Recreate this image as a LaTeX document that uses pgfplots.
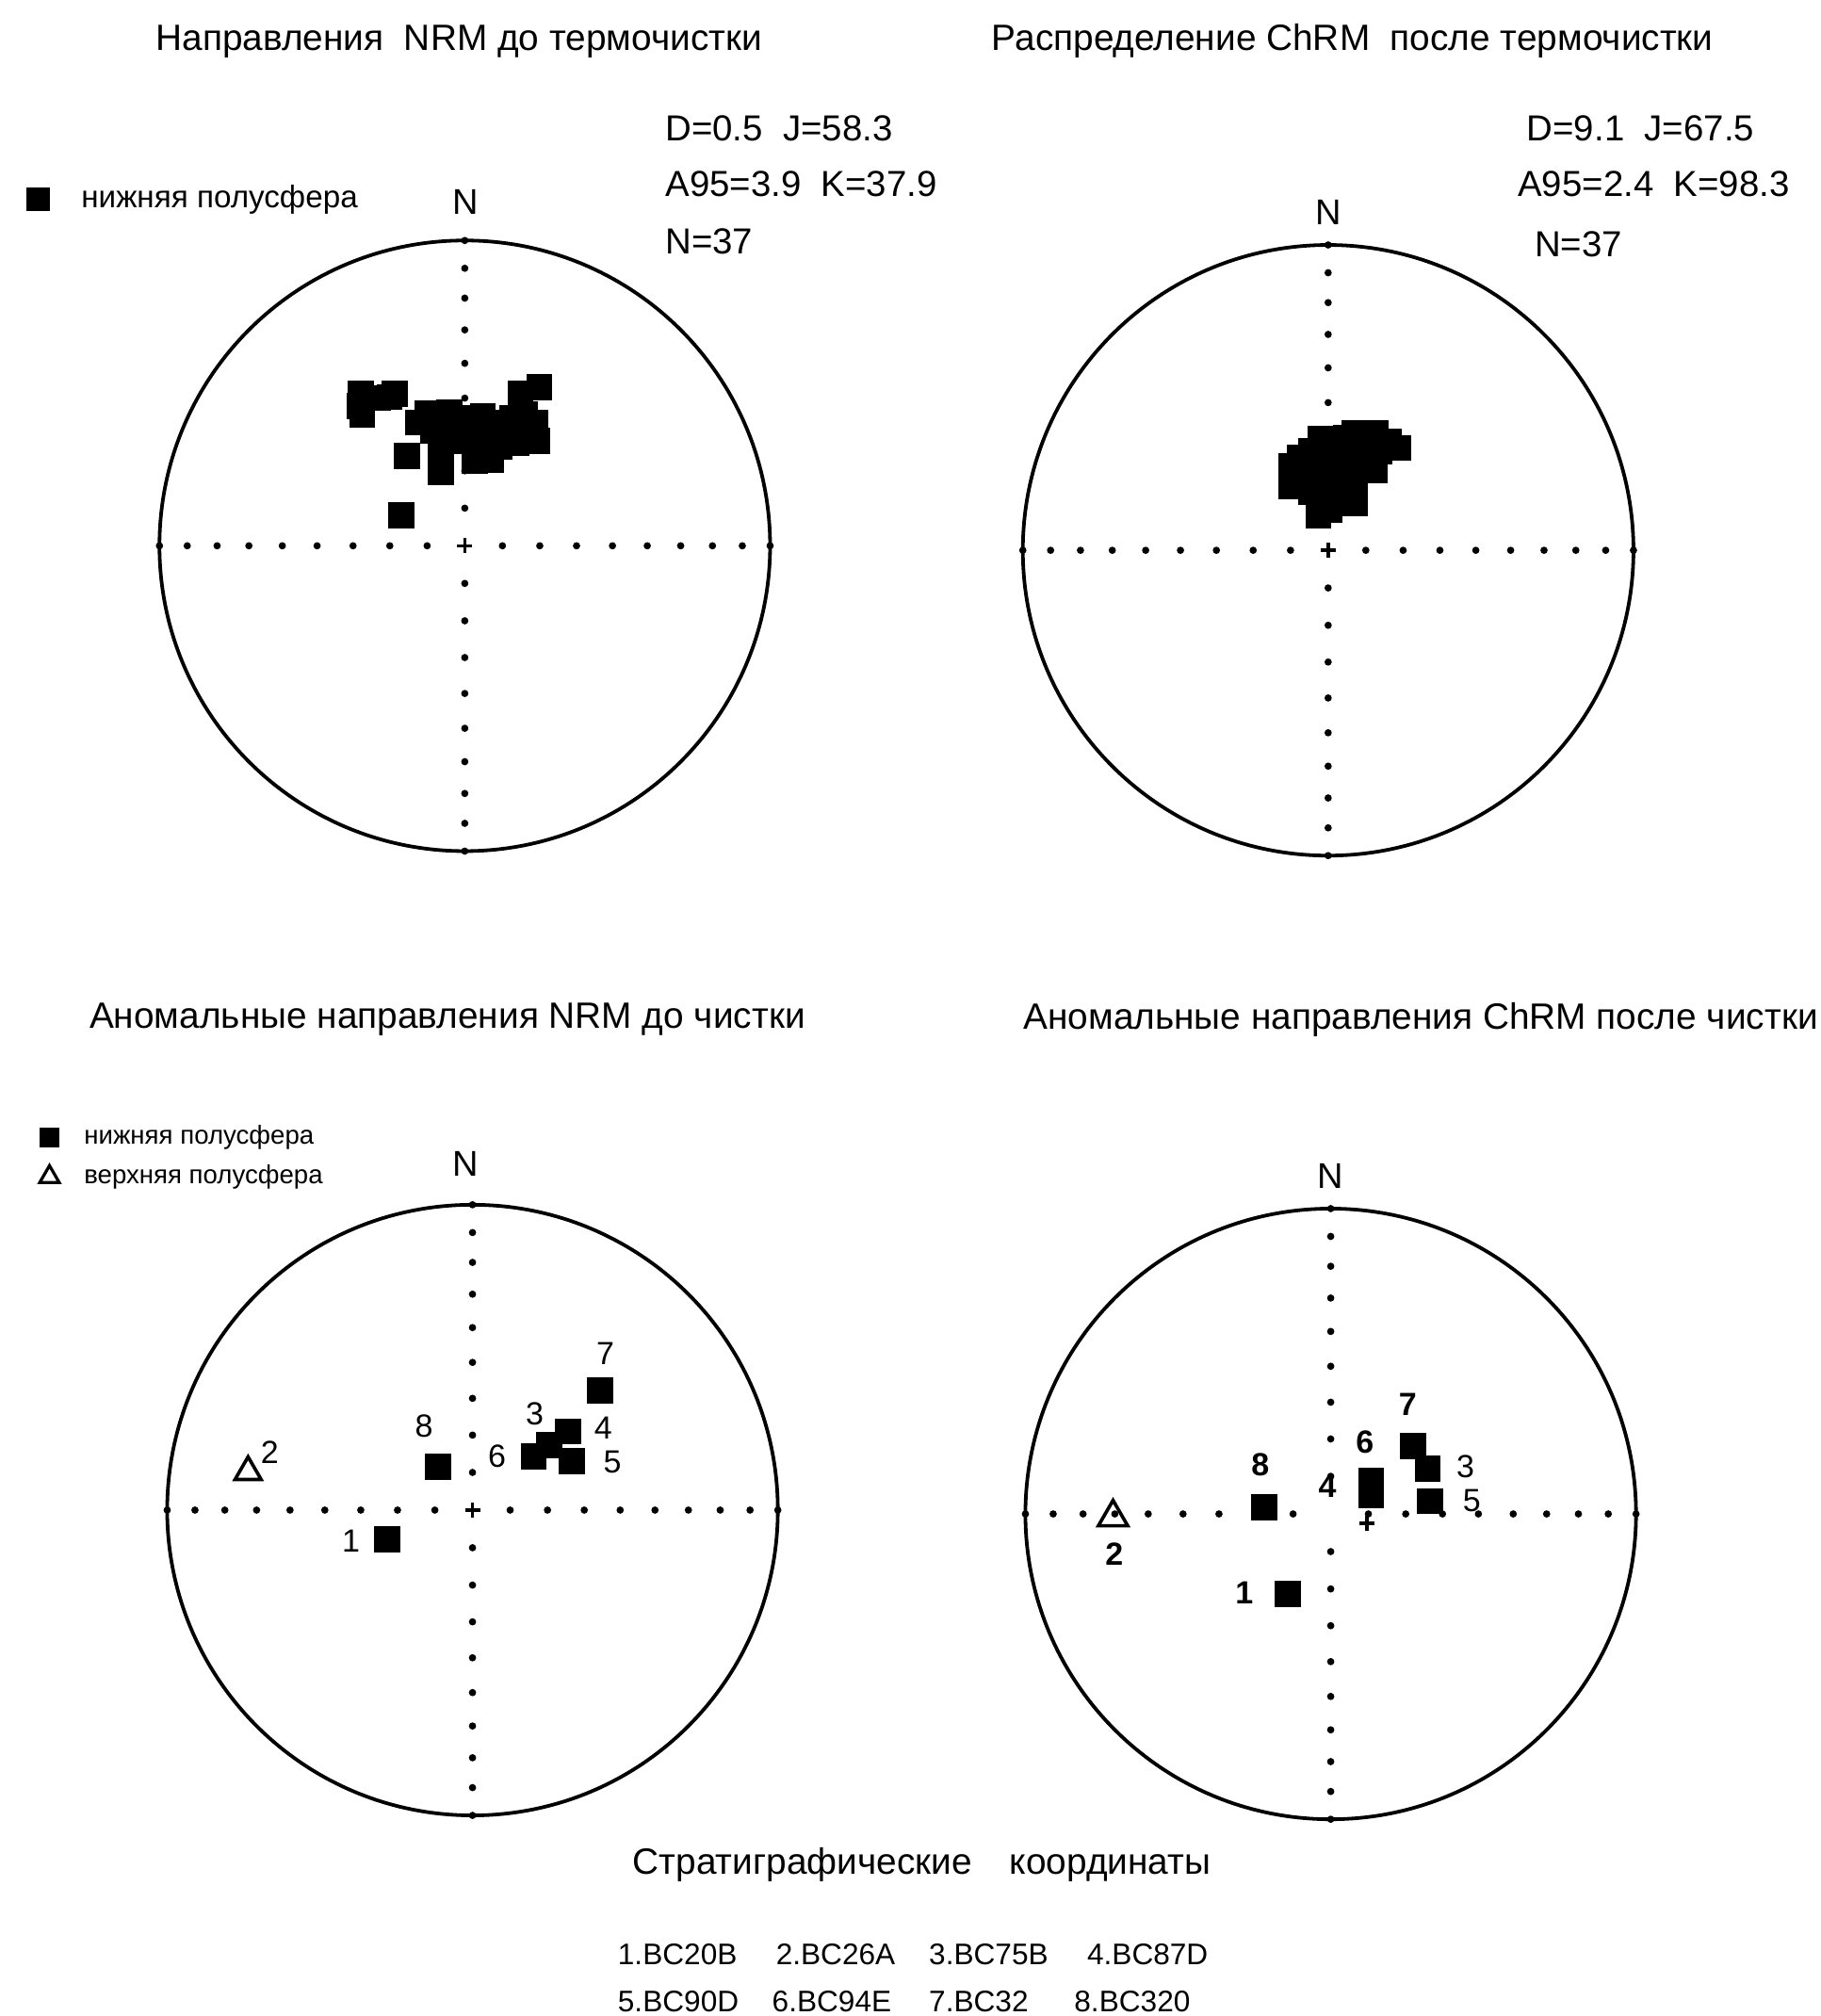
\documentclass[border=0pt]{standalone}
\usepackage{pgfplots}
\pgfplotsset{compat=1.18}
\usepackage{pgfplotstable}
\usepackage{fontspec}
\setmainfont{Liberation Sans}

\def\u{0.3411pt}
\newcommand{\ftitle}{\fontsize{9.7}{11}\selectfont}
\newcommand{\fstat}{\fontsize{9.6}{11}\selectfont}
\newcommand{\fN}{\fontsize{9.5}{11}\selectfont}
\newcommand{\flbl}{\fontsize{8.5}{10}\selectfont}
\newcommand{\fcode}{\fontsize{7.9}{9}\selectfont}

% equal-area net: dots every 10 degrees of inclination
\pgfplotstableread{
x y
0 0.1233
0 0.2456
0 0.3660
0 0.4837
0 0.5977
0 0.7071
0 0.8112
0 0.9090
0 1.0
0 -0.1233
0 -0.2456
0 -0.3660
0 -0.4837
0 -0.5977
0 -0.7071
0 -0.8112
0 -0.9090
0 -1.0
0.1233 0
0.2456 0
0.3660 0
0.4837 0
0.5977 0
0.7071 0
0.8112 0
0.9090 0
1.0 0
-0.1233 0
-0.2456 0
-0.3660 0
-0.4837 0
-0.5977 0
-0.7071 0
-0.8112 0
-0.9090 0
-1.0 0
}\netdots

% NRM before thermal cleaning (lower hemisphere)
\pgfplotstableread{
x y
-0.341 0.500
-0.336 0.428
-0.247 0.487
-0.190 0.295
-0.078 0.241
-0.208 0.100
-0.122 0.433
-0.105 0.377
-0.058 0.407
-0.037 0.351
0.011 0.417
0.059 0.424
0.045 0.364
0.086 0.281
0.045 0.304
0.182 0.497
0.244 0.520
0.196 0.431
0.212 0.357
0.141 0.371
0.114 0.404
-0.092 0.417
-0.010 0.391
0.086 0.377
0.155 0.417
0.230 0.404
-0.078 0.324
-0.010 0.344
-0.153 0.404
0.168 0.337
0.237 0.344
0.114 0.324
0.032 0.277
-0.284 0.484
-0.344 0.457
-0.229 0.497
-0.051 0.437
}\nrmA

% ChRM after thermal cleaning
\pgfplotstableread{
x y
0.156 0.384
0.228 0.335
0.058 0.368
-0.025 0.364
-0.056 0.324
-0.122 0.277
-0.122 0.211
-0.056 0.191
-0.032 0.113
0.089 0.155
0.089 0.224
0.153 0.261
0.031 0.277
0.003 0.224
0.100 0.304
-0.081 0.251
0.031 0.184
0.135 0.344
-0.094 0.304
0.003 0.311
0.058 0.251
-0.025 0.171
0.169 0.324
0.044 0.331
-0.053 0.264
0.114 0.264
0.017 0.251
0.072 0.291
-0.011 0.277
-0.081 0.211
0.142 0.304
0.031 0.357
0.086 0.384
0.197 0.357
-0.094 0.251
0.058 0.197
0.003 0.131
}\chrmA

% anomalous NRM: lower hemisphere (1,3,4,5,6,7,8)
\pgfplotstableread{
x y
-0.280 -0.095
0.251 0.212
0.313 0.258
0.326 0.161
0.200 0.176
0.418 0.392
-0.113 0.141
}\nrmB

% anomalous ChRM: lower hemisphere (1,3,4,5,6,7,8)
\pgfplotstableread{
x y
-0.140 -0.262
0.317 0.148
0.133 0.062
0.326 0.042
0.133 0.108
0.270 0.223
-0.217 0.022
}\chrmB

\pgfplotsset{
  stereo/.style={
    width=162pt, height=162pt, scale only axis,
    xmin=-1, xmax=1, ymin=-1, ymax=1,
    axis lines=none, clip=false, anchor=center,
  },
  sq/.style={only marks, mark=square*, mark size=3.25pt, black, forget plot},
  net/.style={only marks, mark=*, mark size=0.75pt, black, forget plot},
  ctr/.style={only marks, mark=+, mark size=2pt, line width=0.9pt, black, forget plot},
}

\begin{document}
\begin{tikzpicture}
\path[use as bounding box] (0,0) rectangle (1416*\u,-1568*\u);

% ---------- top left ----------
\begin{axis}[stereo, at={(361.5*\u,-424.5*\u)},
  legend style={at={(-0.218,1.067)}, anchor=west, draw=none, fill=none,
    font=\fontsize{8.3}{9}\selectfont, inner sep=0pt, column sep=6.6pt},
  legend cell align=left]
\addlegendimage{only marks, mark=square*, mark size=2.9pt, black}
\addlegendentry{нижняя полусфера}
\draw[line width=0.95pt] (axis cs:0,0) circle[radius=81pt];
\addplot[net] table {\netdots};
\addplot[ctr] coordinates {(0,0)};
\addplot[sq] table {\nrmA};
\end{axis}

% ---------- top right ----------
\begin{axis}[stereo, at={(1033*\u,-428*\u)}]
\draw[line width=0.95pt] (axis cs:0,0) circle[radius=81pt];
\addplot[net] table {\netdots};
\addplot[ctr] coordinates {(0,0)};
\addplot[sq] table {\chrmA};
\end{axis}

% ---------- bottom left ----------
\begin{axis}[stereo, at={(367.5*\u,-1174.5*\u)},
  legend style={at={(-0.21,1.078)}, anchor=west, draw=none, fill=none,
    font=\fontsize{6.9}{8}\selectfont, inner sep=0pt, column sep=4.6pt, row sep=0pt},
  legend cell align=left]
\addlegendimage{only marks, mark=square*, mark size=2.4pt, black}
\addlegendentry{нижняя полусфера}
\addlegendimage{only marks, mark=triangle, mark size=3pt, line width=0.8pt, black}
\addlegendentry{верхняя полусфера}
\draw[line width=0.95pt] (axis cs:0,0) circle[radius=81pt];
\addplot[net] table {\netdots};
\addplot[ctr] coordinates {(0,0)};
\addplot[sq] table {\nrmB};
\addplot[only marks, mark=triangle, mark size=4pt, line width=0.9pt, black,
  mark options={fill=white}, forget plot] coordinates {(-0.735,0.125)};
\begin{scope}[font=\flbl]
\node at (axis cs:0.435,0.514) {7};
\node at (axis cs:0.204,0.314) {3};
\node at (axis cs:0.428,0.269) {4};
\node at (axis cs:0.458,0.157) {5};
\node at (axis cs:0.080,0.176) {6};
\node at (axis cs:-0.159,0.274) {8};
\node at (axis cs:-0.398,-0.101) {1};
\node at (axis cs:-0.664,0.188) {2};
\end{scope}
\end{axis}

% ---------- bottom right ----------
\begin{axis}[stereo, at={(1035*\u,-1177.5*\u)}]
\draw[line width=0.95pt] (axis cs:0,0) circle[radius=81pt];
\addplot[net] table {\netdots};
\addplot[ctr] coordinates {(0.119,-0.030)};
\addplot[sq] table {\chrmB};
\addplot[only marks, mark=triangle, mark size=4.5pt, line width=0.9pt, black,
  mark options={fill=white}, forget plot] coordinates {(-0.713,-0.011)};
\begin{scope}[font=\flbl]
\node at (axis cs:0.252,0.359) {\bfseries 7};
\node at (axis cs:0.112,0.234) {\bfseries 6};
\node at (axis cs:0.441,0.155) {3};
\node at (axis cs:0.462,0.042) {5};
\node at (axis cs:-0.011,0.089) {\bfseries 4};
\node at (axis cs:-0.231,0.161) {\bfseries 8};
\node at (axis cs:-0.283,-0.259) {\bfseries 1};
\node at (axis cs:-0.709,-0.132) {\bfseries 2};
\end{scope}
\end{axis}

% ---------- texts ----------
\node[font=\ftitle] at (357*\u,-32*\u) {Направления\ \ NRM до термочистки};
\node[font=\ftitle] at (1052*\u,-32*\u) {Распределение ChRM\ \ после термочистки};
\node[font=\ftitle] at (348*\u,-793*\u) {Аномальные направления NRM до чистки};
\node[font=\ftitle] at (1105*\u,-793*\u) {Аномальные направления ChRM после чистки};

\node[font=\fstat, anchor=west, inner sep=0pt] at (517*\u,-100*\u) {D=0.5\ \ J=58.3};
\node[font=\fstat, anchor=west, inner sep=0pt] at (517*\u,-143*\u) {A95=3.9\ \ K=37.9};
\node[font=\fstat, anchor=west, inner sep=0pt] at (517*\u,-188*\u) {N=37};
\node[font=\fstat, anchor=west, inner sep=0pt] at (1187*\u,-100*\u) {D=9.1\ \ J=67.5};
\node[font=\fstat, anchor=west, inner sep=0pt] at (1180*\u,-143*\u) {A95=2.4\ \ K=98.3};
\node[font=\fstat, anchor=west, inner sep=0pt] at (1193*\u,-190*\u) {N=37};

\node[font=\fN] at (362*\u,-157*\u) {N};
\node[font=\fN] at (1033*\u,-165*\u) {N};
\node[font=\fN] at (362*\u,-905*\u) {N};
\node[font=\fN] at (1035*\u,-915*\u) {N};

\node[font=\ftitle] at (717*\u,-1450*\u) {Стратиграфические\hspace{10pt}координаты};
\node[font=\fcode, anchor=west, inner sep=0pt] at (480*\u,-1520*\u) {1.BC20B};
\node[font=\fcode, anchor=west, inner sep=0pt] at (603*\u,-1520*\u) {2.BC26A};
\node[font=\fcode, anchor=west, inner sep=0pt] at (722*\u,-1520*\u) {3.BC75B};
\node[font=\fcode, anchor=west, inner sep=0pt] at (845*\u,-1520*\u) {4.BC87D};
\node[font=\fcode, anchor=west, inner sep=0pt] at (480*\u,-1557*\u) {5.BC90D};
\node[font=\fcode, anchor=west, inner sep=0pt] at (600*\u,-1557*\u) {6.BC94E};
\node[font=\fcode, anchor=west, inner sep=0pt] at (722*\u,-1557*\u) {7.BC32};
\node[font=\fcode, anchor=west, inner sep=0pt] at (835*\u,-1557*\u) {8.BC320};
\end{tikzpicture}
\end{document}
